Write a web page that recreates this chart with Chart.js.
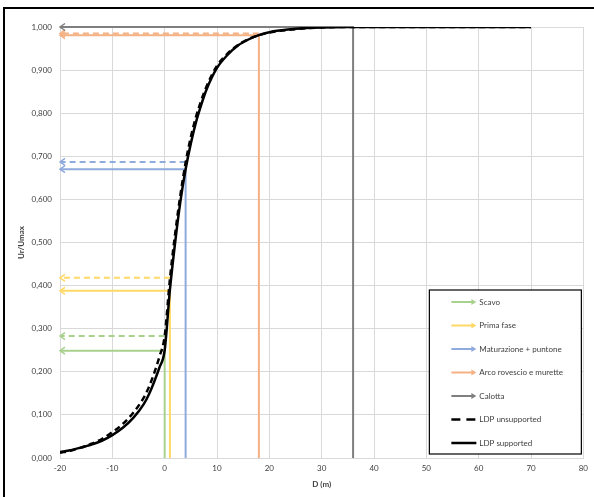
<!DOCTYPE html>
<html>
<head>
<meta charset="utf-8">
<script src="https://cdn.jsdelivr.net/npm/chart.js@4.4.1/dist/chart.umd.min.js"></script>
<style>
    html, body { margin: 0; padding: 0; background: #fff; }
    #wrap { position: relative; width: 594px; height: 497px; overflow: hidden; }
    #frame { position: absolute; left: 3px; top: 7px; width: 640px; height: 540px; border: 2px solid #000; box-sizing: border-box; }
    #ldpChart { position: absolute; left: 0; top: 0; }
</style>
</head>
<body>
<div id="wrap">
    <div id="frame"></div>
    <canvas id="ldpChart" width="594" height="497"></canvas>
</div>
<script>
// Curve data (distance from face D in m, Ur/Umax)
const curveX = [-20, -18, -16, -14, -12, -10, -8, -6, -4, -3, -2, -1, 0, 1, 2, 3, 4, 5, 6, 7, 8, 10, 12, 14, 16, 18, 20, 22, 25, 30, 35, 70];
const ldpSupported = [0.014, 0.018, 0.024, 0.031, 0.040, 0.053, 0.070, 0.093, 0.125, 0.148, 0.177, 0.210, 0.250, 0.390, 0.500, 0.595, 0.670, 0.730, 0.780, 0.820, 0.855, 0.905, 0.935, 0.957, 0.971, 0.981, 0.988, 0.992, 0.996, 0.999, 1.000, 1.000];
const ldpUnsupported = [0.012, 0.017, 0.024, 0.033, 0.044, 0.060, 0.079, 0.105, 0.140, 0.165, 0.197, 0.235, 0.283, 0.415, 0.520, 0.610, 0.685, 0.745, 0.792, 0.830, 0.862, 0.910, 0.938, 0.958, 0.972, 0.981, 0.987, 0.991, 0.995, 0.999, 1.000, 1.000];

// Construction phases
const phaseNames = ['Scavo', 'Prima fase', 'Maturazione + puntone', 'Arco rovescio e murette', 'Calotta'];
const phaseColors = ['#a9d18e', '#ffd966', '#8faadc', '#f4b183', '#7f7f7f'];
const phaseX = [0, 1, 4, 18, 36];
const phaseSupported = [0.249, 0.388, 0.670, 0.981, 1.000];
const phaseUnsupported = [0.283, 0.418, 0.687, 0.985, null];
const arrowEndX = -20;

const fontFamily = 'Lato, "Open Sans", sans-serif';
const textColor = '#404040';
const gridColor = '#d9d9d9';

// Build datasets
const datasets = [
    {
        label: 'LDP supported',
        data: curveX.map((x, i) => ({ x: x, y: ldpSupported[i] })),
        borderColor: '#000',
        borderWidth: 2.5,
        pointRadius: 0,
        cubicInterpolationMode: 'monotone',
        order: 0
    },
    {
        label: 'LDP unsupported',
        data: curveX.map((x, i) => ({ x: x, y: ldpUnsupported[i] })),
        borderColor: '#000',
        borderWidth: 2.5,
        borderDash: [6, 4],
        pointRadius: 0,
        cubicInterpolationMode: 'monotone',
        order: 1
    }
];

phaseNames.forEach((name, i) => {
    datasets.push({
        label: name,
        data: [
            { x: phaseX[i], y: 0 },
            { x: phaseX[i], y: phaseSupported[i] },
            { x: arrowEndX, y: phaseSupported[i] }
        ],
        borderColor: phaseColors[i],
        borderWidth: 2,
        pointRadius: 0,
        clip: 4,
        arrow: true,
        order: 3
    });
    if (phaseUnsupported[i] !== null) {
        datasets.push({
            label: name + ' (unsupported)',
            data: [
                { x: phaseX[i], y: phaseUnsupported[i] },
                { x: arrowEndX, y: phaseUnsupported[i] }
            ],
            borderColor: phaseColors[i],
            borderWidth: 2,
            borderDash: [6, 4],
            pointRadius: 0,
            clip: 4,
            arrow: true,
            order: 2
        });
    }
});

// Open arrow heads at the end of each phase line
const arrowHeads = {
    id: 'arrowHeads',
    afterDatasetsDraw(chart) {
        const ctx = chart.ctx;
        chart.data.datasets.forEach((ds, i) => {
            if (!ds.arrow) return;
            const pts = chart.getDatasetMeta(i).data;
            const tip = pts[pts.length - 1];
            const prev = pts[pts.length - 2];
            const dx = tip.x - prev.x, dy = tip.y - prev.y;
            const len = Math.hypot(dx, dy) || 1;
            const ux = dx / len, uy = dy / len;
            const l = 5, w = 3.5;
            ctx.save();
            ctx.strokeStyle = ds.borderColor;
            ctx.lineWidth = 1.5;
            ctx.beginPath();
            ctx.moveTo(tip.x - ux * l - uy * w, tip.y - uy * l + ux * w);
            ctx.lineTo(tip.x, tip.y);
            ctx.lineTo(tip.x - ux * l + uy * w, tip.y - uy * l - ux * w);
            ctx.stroke();
            ctx.restore();
        });
    }
};

// Boxed legend in the lower right of the plot
const boxLegend = {
    id: 'boxLegend',
    afterDraw(chart) {
        const ctx = chart.ctx;
        const area = chart.chartArea;
        const left = area.right - 154, top = area.bottom - 168;
        const right = area.right - 2, bottom = area.bottom - 4;
        ctx.save();
        ctx.fillStyle = '#fff';
        ctx.fillRect(left, top, right - left, bottom - top);
        ctx.strokeStyle = '#000';
        ctx.lineWidth = 1.2;
        ctx.strokeRect(left, top, right - left, bottom - top);

        const items = phaseNames.map((n, i) => ({ text: n, color: phaseColors[i], arrow: true }));
        items.push({ text: 'LDP unsupported', color: '#000', dash: [9, 6], width: 2.5 });
        items.push({ text: 'LDP supported', color: '#000', width: 2.5 });

        const x0 = left + 22, x1 = left + 47;
        ctx.font = '8px ' + fontFamily;
        ctx.textBaseline = 'middle';
        items.forEach((it, i) => {
            const y = top + 12 + i * 23.5;
            ctx.strokeStyle = it.color;
            ctx.fillStyle = it.color;
            ctx.lineWidth = it.width || 2;
            ctx.setLineDash(it.dash || []);
            ctx.beginPath();
            ctx.moveTo(x0, y);
            ctx.lineTo(it.arrow ? x1 - 3 : x1, y);
            ctx.stroke();
            ctx.setLineDash([]);
            if (it.arrow) {
                ctx.beginPath();
                ctx.moveTo(x1, y);
                ctx.lineTo(x1 - 5, y - 3);
                ctx.lineTo(x1 - 5, y + 3);
                ctx.closePath();
                ctx.fill();
            }
            ctx.fillStyle = textColor;
            ctx.fillText(it.text, x1 + 3, y);
        });
        ctx.restore();
    }
};

const ctx = document.getElementById('ldpChart').getContext('2d');
const ldpChart = new Chart(ctx, {
    type: 'line',
    data: { datasets: datasets },
    options: {
        responsive: false,
        animation: false,
        devicePixelRatio: 1,
        layout: { padding: { left: 0, top: 27, right: 10, bottom: 0 } },
        plugins: {
            legend: { display: false },
            tooltip: { enabled: false }
        },
        scales: {
            x: {
                type: 'linear',
                min: -20,
                max: 80,
                afterFit: (scale) => { scale.height = 39; },
                grid: { color: gridColor, drawTicks: false },
                border: { color: gridColor },
                ticks: {
                    stepSize: 10,
                    autoSkip: false,
                    maxRotation: 0,
                    padding: 6,
                    color: textColor,
                    font: { family: fontFamily, size: 8 }
                },
                title: {
                    display: true,
                    text: 'D (m)',
                    color: textColor,
                    padding: { top: 8, bottom: 8 },
                    font: { family: fontFamily, size: 8, weight: 'bold' }
                }
            },
            y: {
                min: 0,
                max: 1,
                afterFit: (scale) => { scale.width = 60; },
                grid: { color: gridColor, drawTicks: false },
                border: { color: gridColor },
                ticks: {
                    stepSize: 0.1,
                    padding: 8,
                    color: textColor,
                    font: { family: fontFamily, size: 8 },
                    callback: (v) => v.toFixed(3).replace('.', ',')
                },
                title: {
                    display: true,
                    text: 'Ur/Umax',
                    color: textColor,
                    padding: { top: 17, bottom: 17 },
                    font: { family: fontFamily, size: 8, weight: 'bold' }
                }
            }
        }
    },
    plugins: [arrowHeads, boxLegend]
});
</script>
</body>
</html>
